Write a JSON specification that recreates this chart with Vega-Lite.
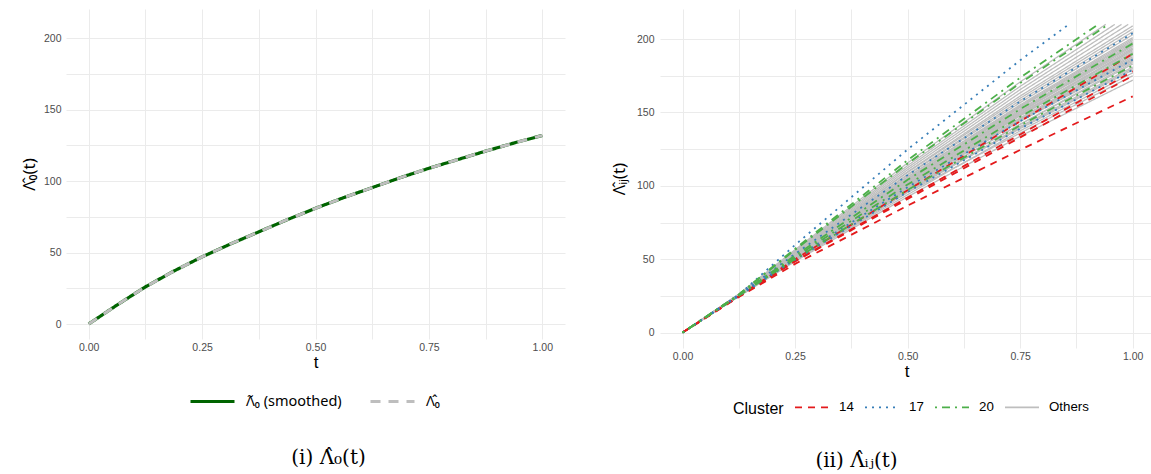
{
  "$schema": "https://vega.github.io/schema/vega-lite/v6.json",
  "padding": {"left": 20, "top": 9, "right": 0, "bottom": 0},
  "background": "white",
  "config": {
    "view": {"stroke": null},
    "font": "Liberation Sans",
    "axis": {
      "ticks": false, "domain": false, "grid": true,
      "gridColor": "#EBEBEB", "gridWidth": 1,
      "labelColor": "#4D4D4D", "labelFontSize": 10.5, "labelFont": "Liberation Sans",
      "titleColor": "black", "titleFontWeight": "normal", "titleFont": "Noto Sans", "titleFontSize": 17
    },
    "legend": {"labelFont": "Liberation Sans", "titleFont": "Liberation Sans", "labelColor": "black", "titleColor": "black", "titleFontWeight": "normal"}
  },
  "resolve": {"scale": {"color": "independent", "strokeDash": "independent", "opacity": "independent"}, "legend": {"color": "independent", "strokeDash": "independent", "opacity": "independent"}},
  "datasets": {
    "base": [
      {"s": "smooth", "t": 0, "v": 0}, {"s": "smooth", "t": 0.0625, "v": 13.3}, {"s": "smooth", "t": 0.125, "v": 26}, {"s": "smooth", "t": 0.1875, "v": 37}, {"s": "smooth", "t": 0.25, "v": 47}, {"s": "smooth", "t": 0.3125, "v": 56}, {"s": "smooth", "t": 0.375, "v": 64.5}, {"s": "smooth", "t": 0.4375, "v": 73}, {"s": "smooth", "t": 0.5, "v": 81}, {"s": "smooth", "t": 0.5625, "v": 88.5}, {"s": "smooth", "t": 0.625, "v": 95.5}, {"s": "smooth", "t": 0.6875, "v": 102.5}, {"s": "smooth", "t": 0.75, "v": 109}, {"s": "smooth", "t": 0.8125, "v": 115}, {"s": "smooth", "t": 0.875, "v": 121}, {"s": "smooth", "t": 0.9375, "v": 126.7}, {"s": "smooth", "t": 1, "v": 132},
      {"s": "raw", "t": 0, "v": 0}, {"s": "raw", "t": 0.0625, "v": 13.3}, {"s": "raw", "t": 0.125, "v": 26}, {"s": "raw", "t": 0.1875, "v": 37}, {"s": "raw", "t": 0.25, "v": 47}, {"s": "raw", "t": 0.3125, "v": 56}, {"s": "raw", "t": 0.375, "v": 64.5}, {"s": "raw", "t": 0.4375, "v": 73}, {"s": "raw", "t": 0.5, "v": 81}, {"s": "raw", "t": 0.5625, "v": 88.5}, {"s": "raw", "t": 0.625, "v": 95.5}, {"s": "raw", "t": 0.6875, "v": 102.5}, {"s": "raw", "t": 0.75, "v": 109}, {"s": "raw", "t": 0.8125, "v": 115}, {"s": "raw", "t": 0.875, "v": 121}, {"s": "raw", "t": 0.9375, "v": 126.7}, {"s": "raw", "t": 1, "v": 132}
    ],
    "cum": [
      {"id":"g1","c":"Others","t":0,"v":0},{"id":"g1","c":"Others","t":0.125,"v":24.6},{"id":"g1","c":"Others","t":0.25,"v":48.5},{"id":"g1","c":"Others","t":0.5,"v":92.6},{"id":"g1","c":"Others","t":0.75,"v":133.8},{"id":"g1","c":"Others","t":1,"v":172},
      {"id":"g2","c":"Others","t":0,"v":0},{"id":"g2","c":"Others","t":0.125,"v":25.3},{"id":"g2","c":"Others","t":0.25,"v":49.0},{"id":"g2","c":"Others","t":0.5,"v":95.5},{"id":"g2","c":"Others","t":0.75,"v":136.0},{"id":"g2","c":"Others","t":1,"v":175},
      {"id":"g3","c":"Others","t":0,"v":0},{"id":"g3","c":"Others","t":0.125,"v":24.8},{"id":"g3","c":"Others","t":0.25,"v":49.3},{"id":"g3","c":"Others","t":0.5,"v":94.0},{"id":"g3","c":"Others","t":0.75,"v":137.5},{"id":"g3","c":"Others","t":1,"v":177},
      {"id":"g4","c":"Others","t":0,"v":0},{"id":"g4","c":"Others","t":0.125,"v":25.5},{"id":"g4","c":"Others","t":0.25,"v":50.4},{"id":"g4","c":"Others","t":0.5,"v":96.8},{"id":"g4","c":"Others","t":0.75,"v":139.0},{"id":"g4","c":"Others","t":1,"v":179},
      {"id":"g5","c":"Others","t":0,"v":0},{"id":"g5","c":"Others","t":0.125,"v":25.0},{"id":"g5","c":"Others","t":0.25,"v":49.8},{"id":"g5","c":"Others","t":0.5,"v":97.5},{"id":"g5","c":"Others","t":0.75,"v":139.7},{"id":"g5","c":"Others","t":1,"v":180},
      {"id":"g6","c":"Others","t":0,"v":0},{"id":"g6","c":"Others","t":0.125,"v":24.7},{"id":"g6","c":"Others","t":0.25,"v":49.5},{"id":"g6","c":"Others","t":0.5,"v":95.8},{"id":"g6","c":"Others","t":0.75,"v":140.4},{"id":"g6","c":"Others","t":1,"v":181},
      {"id":"g7","c":"Others","t":0,"v":0},{"id":"g7","c":"Others","t":0.125,"v":25.4},{"id":"g7","c":"Others","t":0.25,"v":50.8},{"id":"g7","c":"Others","t":0.5,"v":98.5},{"id":"g7","c":"Others","t":0.75,"v":141.9},{"id":"g7","c":"Others","t":1,"v":183},
      {"id":"g8","c":"Others","t":0,"v":0},{"id":"g8","c":"Others","t":0.125,"v":25.1},{"id":"g8","c":"Others","t":0.25,"v":50.4},{"id":"g8","c":"Others","t":0.5,"v":98.1},{"id":"g8","c":"Others","t":0.75,"v":142.0},{"id":"g8","c":"Others","t":1,"v":184},
      {"id":"g9","c":"Others","t":0,"v":0},{"id":"g9","c":"Others","t":0.125,"v":24.9},{"id":"g9","c":"Others","t":0.25,"v":50.6},{"id":"g9","c":"Others","t":0.5,"v":99.5},{"id":"g9","c":"Others","t":0.75,"v":144.0},{"id":"g9","c":"Others","t":1,"v":185},
      {"id":"g10","c":"Others","t":0,"v":0},{"id":"g10","c":"Others","t":0.125,"v":25.6},{"id":"g10","c":"Others","t":0.25,"v":51.2},{"id":"g10","c":"Others","t":0.5,"v":99.1},{"id":"g10","c":"Others","t":0.75,"v":144.1},{"id":"g10","c":"Others","t":1,"v":186},
      {"id":"g11","c":"Others","t":0,"v":0},{"id":"g11","c":"Others","t":0.125,"v":25.2},{"id":"g11","c":"Others","t":0.25,"v":50.9},{"id":"g11","c":"Others","t":0.5,"v":100.5},{"id":"g11","c":"Others","t":0.75,"v":145.5},{"id":"g11","c":"Others","t":1,"v":187},
      {"id":"g12","c":"Others","t":0,"v":0},{"id":"g12","c":"Others","t":0.125,"v":24.8},{"id":"g12","c":"Others","t":0.25,"v":51.1},{"id":"g12","c":"Others","t":0.5,"v":100.0},{"id":"g12","c":"Others","t":0.75,"v":145.6},{"id":"g12","c":"Others","t":1,"v":188},
      {"id":"g13","c":"Others","t":0,"v":0},{"id":"g13","c":"Others","t":0.125,"v":25.5},{"id":"g13","c":"Others","t":0.25,"v":51.8},{"id":"g13","c":"Others","t":0.5,"v":101.5},{"id":"g13","c":"Others","t":0.75,"v":146.4},{"id":"g13","c":"Others","t":1,"v":189},
      {"id":"g14","c":"Others","t":0,"v":0},{"id":"g14","c":"Others","t":0.125,"v":25.0},{"id":"g14","c":"Others","t":0.25,"v":51.4},{"id":"g14","c":"Others","t":0.5,"v":100.9},{"id":"g14","c":"Others","t":0.75,"v":147.8},{"id":"g14","c":"Others","t":1,"v":190},
      {"id":"g15","c":"Others","t":0,"v":0},{"id":"g15","c":"Others","t":0.125,"v":25.3},{"id":"g15","c":"Others","t":0.25,"v":51.6},{"id":"g15","c":"Others","t":0.5,"v":102.0},{"id":"g15","c":"Others","t":0.75,"v":147.8},{"id":"g15","c":"Others","t":1,"v":191},
      {"id":"g16","c":"Others","t":0,"v":0},{"id":"g16","c":"Others","t":0.125,"v":24.9},{"id":"g16","c":"Others","t":0.25,"v":51.7},{"id":"g16","c":"Others","t":0.5,"v":101.8},{"id":"g16","c":"Others","t":0.75,"v":148.6},{"id":"g16","c":"Others","t":1,"v":192},
      {"id":"g17","c":"Others","t":0,"v":0},{"id":"g17","c":"Others","t":0.125,"v":25.6},{"id":"g17","c":"Others","t":0.25,"v":52.4},{"id":"g17","c":"Others","t":0.5,"v":103.0},{"id":"g17","c":"Others","t":0.75,"v":149.3},{"id":"g17","c":"Others","t":1,"v":193},
      {"id":"g18","c":"Others","t":0,"v":0},{"id":"g18","c":"Others","t":0.125,"v":25.2},{"id":"g18","c":"Others","t":0.25,"v":52.0},{"id":"g18","c":"Others","t":0.5,"v":102.7},{"id":"g18","c":"Others","t":0.75,"v":150.6},{"id":"g18","c":"Others","t":1,"v":194},
      {"id":"g19","c":"Others","t":0,"v":0},{"id":"g19","c":"Others","t":0.125,"v":25.4},{"id":"g19","c":"Others","t":0.25,"v":52.2},{"id":"g19","c":"Others","t":0.5,"v":104.0},{"id":"g19","c":"Others","t":0.75,"v":150.8},{"id":"g19","c":"Others","t":1,"v":195},
      {"id":"g20","c":"Others","t":0,"v":0},{"id":"g20","c":"Others","t":0.125,"v":25.0},{"id":"g20","c":"Others","t":0.25,"v":52.4},{"id":"g20","c":"Others","t":0.5,"v":103.7},{"id":"g20","c":"Others","t":0.75,"v":151.5},{"id":"g20","c":"Others","t":1,"v":196},
      {"id":"g21","c":"Others","t":0,"v":0},{"id":"g21","c":"Others","t":0.125,"v":25.7},{"id":"g21","c":"Others","t":0.25,"v":52.9},{"id":"g21","c":"Others","t":0.5,"v":104.8},{"id":"g21","c":"Others","t":0.75,"v":152.3},{"id":"g21","c":"Others","t":1,"v":197},
      {"id":"g22","c":"Others","t":0,"v":0},{"id":"g22","c":"Others","t":0.125,"v":25.3},{"id":"g22","c":"Others","t":0.25,"v":52.7},{"id":"g22","c":"Others","t":0.5,"v":104.6},{"id":"g22","c":"Others","t":0.75,"v":153.5},{"id":"g22","c":"Others","t":1,"v":198},
      {"id":"g23","c":"Others","t":0,"v":0},{"id":"g23","c":"Others","t":0.125,"v":25.1},{"id":"g23","c":"Others","t":0.25,"v":52.8},{"id":"g23","c":"Others","t":0.5,"v":105.0},{"id":"g23","c":"Others","t":0.75,"v":153.8},{"id":"g23","c":"Others","t":1,"v":199},
      {"id":"g24","c":"Others","t":0,"v":0},{"id":"g24","c":"Others","t":0.125,"v":25.8},{"id":"g24","c":"Others","t":0.25,"v":53.4},{"id":"g24","c":"Others","t":0.5,"v":106.2},{"id":"g24","c":"Others","t":0.75,"v":154.5},{"id":"g24","c":"Others","t":1,"v":200},
      {"id":"g25","c":"Others","t":0,"v":0},{"id":"g25","c":"Others","t":0.125,"v":25.4},{"id":"g25","c":"Others","t":0.25,"v":53.2},{"id":"g25","c":"Others","t":0.5,"v":106.0},{"id":"g25","c":"Others","t":0.75,"v":155.2},{"id":"g25","c":"Others","t":1,"v":201},
      {"id":"g26","c":"Others","t":0,"v":0},{"id":"g26","c":"Others","t":0.125,"v":25.6},{"id":"g26","c":"Others","t":0.25,"v":53.5},{"id":"g26","c":"Others","t":0.5,"v":107.4},{"id":"g26","c":"Others","t":0.75,"v":156.7},{"id":"g26","c":"Others","t":1,"v":203},
      {"id":"g27","c":"Others","t":0,"v":0},{"id":"g27","c":"Others","t":0.125,"v":25.9},{"id":"g27","c":"Others","t":0.25,"v":54.1},{"id":"g27","c":"Others","t":0.5,"v":107.8},{"id":"g27","c":"Others","t":0.75,"v":158.2},{"id":"g27","c":"Others","t":1,"v":205},
      {"id":"g28","c":"Others","t":0,"v":0},{"id":"g28","c":"Others","t":0.125,"v":25.5},{"id":"g28","c":"Others","t":0.25,"v":54.1},{"id":"g28","c":"Others","t":0.5,"v":109.2},{"id":"g28","c":"Others","t":0.75,"v":159.7},{"id":"g28","c":"Others","t":1,"v":207},
      {"id":"g29","c":"Others","t":0,"v":0},{"id":"g29","c":"Others","t":0.125,"v":26.0},{"id":"g29","c":"Others","t":0.25,"v":54.6},{"id":"g29","c":"Others","t":0.5,"v":109.6},{"id":"g29","c":"Others","t":0.75,"v":161.2},{"id":"g29","c":"Others","t":1,"v":209},
      {"id":"g30","c":"Others","t":0,"v":0},{"id":"g30","c":"Others","t":0.125,"v":25.7},{"id":"g30","c":"Others","t":0.25,"v":54.9},{"id":"g30","c":"Others","t":0.5,"v":111.0},{"id":"g30","c":"Others","t":0.75,"v":163.4},{"id":"g30","c":"Others","t":0.99,"v":210},
      {"id":"g31","c":"Others","t":0,"v":0},{"id":"g31","c":"Others","t":0.125,"v":26.1},{"id":"g31","c":"Others","t":0.25,"v":55.4},{"id":"g31","c":"Others","t":0.5,"v":112.4},{"id":"g31","c":"Others","t":0.75,"v":165.6},{"id":"g31","c":"Others","t":0.975,"v":210},
      {"id":"g32","c":"Others","t":0,"v":0},{"id":"g32","c":"Others","t":0.125,"v":25.8},{"id":"g32","c":"Others","t":0.25,"v":55.9},{"id":"g32","c":"Others","t":0.5,"v":113.8},{"id":"g32","c":"Others","t":0.75,"v":167.8},{"id":"g32","c":"Others","t":0.96,"v":210},
      {"id":"g33","c":"Others","t":0,"v":0},{"id":"g33","c":"Others","t":0.125,"v":26.2},{"id":"g33","c":"Others","t":0.25,"v":56.5},{"id":"g33","c":"Others","t":0.5,"v":115.6},{"id":"g33","c":"Others","t":0.75,"v":170.8},{"id":"g33","c":"Others","t":0.94,"v":210},
      {"id":"g34","c":"Others","t":0,"v":0},{"id":"g34","c":"Others","t":0.125,"v":25.0},{"id":"g34","c":"Others","t":0.25,"v":51.0},{"id":"g34","c":"Others","t":0.5,"v":100.2},{"id":"g34","c":"Others","t":0.75,"v":145.0},{"id":"g34","c":"Others","t":1,"v":186},
      {"id":"g35","c":"Others","t":0,"v":0},{"id":"g35","c":"Others","t":0.125,"v":25.1},{"id":"g35","c":"Others","t":0.25,"v":52.2},{"id":"g35","c":"Others","t":0.5,"v":101.5},{"id":"g35","c":"Others","t":0.75,"v":148.5},{"id":"g35","c":"Others","t":1,"v":193},
      {"id":"g36","c":"Others","t":0,"v":0},{"id":"g36","c":"Others","t":0.125,"v":25.5},{"id":"g36","c":"Others","t":0.25,"v":52.0},{"id":"g36","c":"Others","t":0.5,"v":102.8},{"id":"g36","c":"Others","t":0.75,"v":150.0},{"id":"g36","c":"Others","t":1,"v":196},
      {"id":"r1","c":"14","t":0,"v":0},{"id":"r1","c":"14","t":0.125,"v":24.2},{"id":"r1","c":"14","t":0.25,"v":46.8},{"id":"r1","c":"14","t":0.5,"v":86.5},{"id":"r1","c":"14","t":0.75,"v":124.5},{"id":"r1","c":"14","t":1,"v":161},
      {"id":"r2","c":"14","t":0,"v":0},{"id":"r2","c":"14","t":0.125,"v":24.6},{"id":"r2","c":"14","t":0.25,"v":48.5},{"id":"r2","c":"14","t":0.5,"v":91.0},{"id":"r2","c":"14","t":0.75,"v":133.0},{"id":"r2","c":"14","t":1,"v":175},
      {"id":"r3","c":"14","t":0,"v":0},{"id":"r3","c":"14","t":0.125,"v":24.5},{"id":"r3","c":"14","t":0.25,"v":48.8},{"id":"r3","c":"14","t":0.5,"v":92.0},{"id":"r3","c":"14","t":0.75,"v":135.0},{"id":"r3","c":"14","t":1,"v":178},
      {"id":"r4","c":"14","t":0,"v":0},{"id":"r4","c":"14","t":0.125,"v":24.8},{"id":"r4","c":"14","t":0.25,"v":50.0},{"id":"r4","c":"14","t":0.5,"v":97.0},{"id":"r4","c":"14","t":0.75,"v":144.0},{"id":"r4","c":"14","t":1,"v":190},
      {"id":"b1","c":"17","t":0,"v":0},{"id":"b1","c":"17","t":0.125,"v":25.8},{"id":"b1","c":"17","t":0.25,"v":59.7},{"id":"b1","c":"17","t":0.5,"v":124.8},{"id":"b1","c":"17","t":0.75,"v":185.6},{"id":"b1","c":"17","t":0.858,"v":210},
      {"id":"b2","c":"17","t":0,"v":0},{"id":"b2","c":"17","t":0.125,"v":25.5},{"id":"b2","c":"17","t":0.25,"v":53.6},{"id":"b2","c":"17","t":0.5,"v":107.3},{"id":"b2","c":"17","t":0.75,"v":157.5},{"id":"b2","c":"17","t":1,"v":204},
      {"id":"b3","c":"17","t":0,"v":0},{"id":"b3","c":"17","t":0.125,"v":25.2},{"id":"b3","c":"17","t":0.25,"v":50.8},{"id":"b3","c":"17","t":0.5,"v":99.1},{"id":"b3","c":"17","t":0.75,"v":144.1},{"id":"b3","c":"17","t":1,"v":186},
      {"id":"b4","c":"17","t":0,"v":0},{"id":"b4","c":"17","t":0.125,"v":25.0},{"id":"b4","c":"17","t":0.25,"v":49.6},{"id":"b4","c":"17","t":0.5,"v":95.8},{"id":"b4","c":"17","t":0.75,"v":139.0},{"id":"b4","c":"17","t":1,"v":179},
      {"id":"n1","c":"20","t":0,"v":0},{"id":"n1","c":"20","t":0.125,"v":26.0},{"id":"n1","c":"20","t":0.25,"v":57.2},{"id":"n1","c":"20","t":0.5,"v":117.5},{"id":"n1","c":"20","t":0.75,"v":173.7},{"id":"n1","c":"20","t":0.923,"v":210},
      {"id":"n2","c":"20","t":0,"v":0},{"id":"n2","c":"20","t":0.125,"v":25.8},{"id":"n2","c":"20","t":0.25,"v":56.4},{"id":"n2","c":"20","t":0.5,"v":115.2},{"id":"n2","c":"20","t":0.75,"v":170.0},{"id":"n2","c":"20","t":0.946,"v":210},
      {"id":"n3","c":"20","t":0,"v":0},{"id":"n3","c":"20","t":0.125,"v":25.5},{"id":"n3","c":"20","t":0.25,"v":52.5},{"id":"n3","c":"20","t":0.5,"v":104.1},{"id":"n3","c":"20","t":0.75,"v":152.3},{"id":"n3","c":"20","t":1,"v":197},
      {"id":"n4","c":"20","t":0,"v":0},{"id":"n4","c":"20","t":0.125,"v":25.3},{"id":"n4","c":"20","t":0.25,"v":51.4},{"id":"n4","c":"20","t":0.5,"v":100.9},{"id":"n4","c":"20","t":0.75,"v":147.1},{"id":"n4","c":"20","t":1,"v":190},
      {"id":"n5","c":"20","t":0,"v":0},{"id":"n5","c":"20","t":0.125,"v":25.1},{"id":"n5","c":"20","t":0.25,"v":50.1},{"id":"n5","c":"20","t":0.5,"v":97.2},{"id":"n5","c":"20","t":0.75,"v":141.2},{"id":"n5","c":"20","t":1,"v":182}
    ]
  },
  "hconcat": [
    {
      "width": 499,
      "height": 330,
      "title": {"text": "(i)  Λ̂₀(t)", "orient": "bottom", "anchor": "middle", "frame": "group", "font": "DejaVu Serif", "fontSize": 20, "fontWeight": "normal", "color": "black", "baseline": "top", "offset": 40, "dx": 13},
      "data": {"name": "base"},
      "encoding": {
        "x": {"field": "t", "type": "quantitative", "title": "t",
          "scale": {"domain": [-0.05, 1.05], "nice": false, "zero": false},
          "axis": {"values": [0, 0.125, 0.25, 0.375, 0.5, 0.625, 0.75, 0.875, 1], "labelExpr": "(datum.value * 8) % 2 == 0 ? format(datum.value, '.2f') : ''", "labelPadding": 3, "titlePadding": 2, "titleFont": "Liberation Sans"}},
        "y": {"field": "v", "type": "quantitative", "title": "Λ̂₀(t)",
          "scale": {"domain": [-10.5, 220.5], "nice": false, "zero": false},
          "axis": {"values": [0, 25, 50, 75, 100, 125, 150, 175, 200], "labelExpr": "datum.value % 50 == 0 ? format(datum.value, 'd') : ''", "labelPadding": 5, "titlePadding": 5}},
        "color": {"field": "s", "type": "nominal",
          "scale": {"domain": ["smooth", "raw"], "range": ["#006400", "#BEBEBE"]},
          "legend": {"orient": "none", "direction": "horizontal", "legendX": 123, "legendY": 369, "title": null,
            "labelExpr": "datum.value == 'smooth' ? 'Λ̃₀  (smoothed)' : 'Λ̂₀'", "labelFont": "Noto Sans",
            "symbolType": "stroke", "symbolSize": 1936, "symbolStrokeWidth": 3, "labelFontSize": 14.5, "labelOffset": 10, "columnPadding": 18}},
        "strokeDash": {"field": "s", "type": "nominal",
          "scale": {"domain": ["smooth", "raw"], "range": [[1, 0], [10, 8]]}}
      },
      "layer": [
        {"transform": [{"filter": "datum.s == 'smooth'"}], "mark": {"type": "line", "strokeWidth": 3.2}},
        {"transform": [{"filter": "datum.s == 'raw'"}], "mark": {"type": "line", "strokeWidth": 3}}
      ]
    },
    {
      "width": 493,
      "height": 339,
      "title": {"text": "(ii)  Λ̂ᵢⱼ(t)", "orient": "bottom", "anchor": "middle", "frame": "group", "font": "DejaVu Serif", "fontSize": 20, "fontWeight": "normal", "color": "black", "baseline": "top", "offset": 34, "dx": -50},
      "data": {"name": "cum"},
      "encoding": {
        "x": {"field": "t", "type": "quantitative", "title": "t",
          "scale": {"domain": [-0.05, 1.045], "nice": false, "zero": false},
          "axis": {"values": [0, 0.125, 0.25, 0.375, 0.5, 0.625, 0.75, 0.875, 1], "labelExpr": "(datum.value * 8) % 2 == 0 ? format(datum.value, '.2f') : ''", "labelPadding": 3, "titlePadding": 2, "titleFont": "Liberation Sans"}},
        "y": {"field": "v", "type": "quantitative", "title": "Λ̂ᵢⱼ(t)",
          "scale": {"domain": [-10.5, 220.5], "nice": false, "zero": false},
          "axis": {"values": [0, 25, 50, 75, 100, 125, 150, 175, 200], "labelExpr": "datum.value % 50 == 0 ? format(datum.value, 'd') : ''", "labelPadding": 6, "titlePadding": 8}},
        "detail": {"field": "id", "type": "nominal"},
        "color": {"field": "c", "type": "nominal",
          "scale": {"domain": ["14", "17", "20", "Others"], "range": ["#E41A1C", "#377EB8", "#4DAF4A", "#BEBEBE"]},
          "legend": {"orient": "none", "direction": "horizontal", "legendX": 73, "legendY": 380, "title": "Cluster", "titleOrient": "left", "titleAnchor": "middle", "titleBaseline": "top", "titleFontSize": 16, "titlePadding": 10,
            "symbolType": "stroke", "symbolSize": 1156, "symbolStrokeWidth": 1.8, "labelFontSize": 13.3, "labelOffset": 9, "columnPadding": 7}},
        "strokeDash": {"field": "c", "type": "nominal",
          "scale": {"domain": ["14", "17", "20", "Others"], "range": [[7, 6], [2, 5], [2, 5, 8, 5], [1, 0]]}},
        "opacity": {"field": "c", "type": "nominal",
          "scale": {"domain": ["14", "17", "20", "Others"], "range": [1, 1, 1, 0.4]}}
      },
      "layer": [
        {"transform": [{"filter": "datum.c == 'Others'"}], "mark": {"type": "line", "strokeWidth": 1.3}},
        {"transform": [{"filter": "datum.c != 'Others'"}], "mark": {"type": "line", "strokeWidth": 1.8}}
      ]
    }
  ],
  "spacing": 95,
  "bounds": "flush"
}
